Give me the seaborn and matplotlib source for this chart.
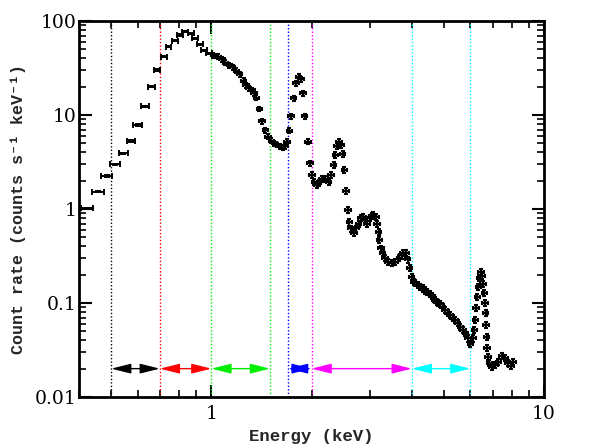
import numpy as np
import matplotlib
matplotlib.use("Agg")
import matplotlib.pyplot as plt
from matplotlib.ticker import FixedLocator, NullFormatter, FixedFormatter, LogLocator
import seaborn as sns

# spectrum (keV, counts s^-1 keV^-1)
energy = [0.424, 0.456, 0.486, 0.515, 0.544, 0.574, 0.600, 0.632, 0.662, 0.688,
          0.719, 0.743, 0.778, 0.805, 0.834, 0.869, 0.894, 0.925, 0.953, 0.984,
          1.014, 1.047, 1.077, 1.101, 1.132, 1.159, 1.189, 1.216, 1.25, 1.27,
          1.294, 1.325, 1.343, 1.365, 1.393, 1.42, 1.452, 1.48, 1.514, 1.546,
          1.575, 1.604, 1.637, 1.667, 1.688, 1.715, 1.738, 1.767, 1.795, 1.83,
          1.858, 1.884, 1.907, 1.951, 1.98, 2.005, 2.04, 2.075, 2.10, 2.15,
          2.20, 2.25, 2.29, 2.33, 2.36, 2.38, 2.42, 2.46, 2.48, 2.51,
          2.54, 2.57, 2.60, 2.63, 2.68, 2.72, 2.77, 2.82, 2.86, 2.89,
          2.94, 3.00, 3.04, 3.07, 3.12, 3.15, 3.18, 3.20, 3.23, 3.27,
          3.33, 3.40, 3.49, 3.57, 3.67, 3.73, 3.77, 3.84, 3.89, 3.94,
          4.00, 4.05, 4.10, 4.17, 4.24, 4.31, 4.39, 4.44, 4.54, 4.60,
          4.65, 4.70, 4.76, 4.81, 4.87, 4.95, 5.04, 5.13, 5.22, 5.31,
          5.40, 5.50, 5.60, 5.70, 5.80, 5.90, 6.00, 6.13, 6.17, 6.21,
          6.25, 6.30, 6.34, 6.39, 6.45, 6.52, 6.56, 6.61, 6.64, 6.67,
          6.69, 6.71, 6.74, 6.77, 6.84, 6.98, 7.13, 7.28, 7.47, 7.63,
          7.79, 7.95, 8.06]
rate = [1.02, 1.53, 2.24, 2.99, 3.91, 5.29, 7.83, 12.4, 20.0, 30.1,
        41.7, 53.3, 61.8, 71.0, 77.0, 74.0, 65.5, 56.5, 49.0, 45.3,
        43.5, 41.7, 39.1, 36.1, 34.0, 32.1, 29.6, 27.1, 23.2, 20.8,
        19.2, 18.4, 17.0, 15.3, 11.6, 8.63, 6.92, 5.87, 5.33, 5.00,
        4.80, 4.68, 4.53, 4.68, 5.20, 6.80, 9.76, 15.1, 21.7, 25.5,
        24.0, 17.0, 9.76, 5.20, 3.06, 2.30, 1.95, 1.80, 1.88, 2.07,
        2.07, 1.95, 2.30, 2.94, 3.75, 4.68, 5.20, 4.80, 3.82, 2.60,
        1.55, 0.975, 0.72, 0.62, 0.56, 0.62, 0.70, 0.80, 0.82, 0.76,
        0.70, 0.80, 0.84, 0.86, 0.83, 0.70, 0.57, 0.47, 0.38, 0.34,
        0.30, 0.275, 0.265, 0.275, 0.30, 0.32, 0.34, 0.34, 0.29, 0.234,
        0.19, 0.169, 0.162, 0.155, 0.149, 0.143, 0.136, 0.132, 0.124, 0.118,
        0.112, 0.108, 0.103, 0.100, 0.097, 0.090, 0.084, 0.079, 0.0745, 0.070,
        0.066, 0.061, 0.056, 0.052, 0.048, 0.042, 0.037, 0.042, 0.052, 0.066,
        0.088, 0.116, 0.148, 0.185, 0.214, 0.194, 0.159, 0.128, 0.100, 0.078,
        0.058, 0.0435, 0.0332, 0.0267, 0.023, 0.0209, 0.0218, 0.0236, 0.0273, 0.0259,
        0.023, 0.0215, 0.0236]

# bin half-widths (fraction of energy) for the wide low-energy bins
low_bin_frac = [0.042, 0.040, 0.038, 0.035, 0.032, 0.030, 0.028, 0.026, 0.024, 0.022,
                0.021, 0.020, 0.020, 0.020, 0.020, 0.020, 0.020, 0.020, 0.020, 0.020]
high_bin_frac = 0.019

# band boundaries (keV) and colours
band_edges = [0.5, 0.7, 1.0, 1.5, 1.7, 2.0, 4.0, 6.0]
edge_colors = ["black", "red", "#00ee00", "#00ee00", "blue", "magenta", "cyan", "cyan"]
bands = [(0.5, 0.7, "black"), (0.7, 1.0, "red"), (1.0, 1.5, "#00ee00"),
         (1.7, 2.0, "blue"), (2.0, 4.0, "magenta"), (4.0, 6.0, "cyan")]
arrow_level = 0.02

sns.set_theme(style="ticks")
plt.rcParams["font.family"] = ["DejaVu Sans"]
label_font = ["Liberation Mono", "DejaVu Sans Mono"]

E = np.array(energy)
R = np.array(rate)
nlow = len(low_bin_frac)
xfrac = np.array(low_bin_frac + [high_bin_frac] * (len(E) - nlow))
yfrac = np.where(E < 1.0, 0.015, np.where(E < 2.0, 0.06, 0.075))

fig = plt.figure(figsize=(5.98, 4.47), dpi=100)
ax = fig.add_axes([0.132, 0.112, 0.778, 0.841])

for x, c in zip(band_edges, edge_colors):
    ax.axvline(x, color=c, ls=(0, (1, 1.5)), lw=1.0, zorder=1)

# wide low-energy bins: long bars, taller end ticks
ax.errorbar(E[:nlow], R[:nlow], xerr=E[:nlow] * xfrac[:nlow], yerr=R[:nlow] * yfrac[:nlow],
            fmt="none", ecolor="black", elinewidth=1.4, capsize=2.4, capthick=1.4, zorder=3)
ax.errorbar(E[nlow:], R[nlow:], xerr=E[nlow:] * xfrac[nlow:], yerr=R[nlow:] * yfrac[nlow:],
            fmt="none", ecolor="black", elinewidth=1.6, capsize=1.6, capthick=1.5, zorder=3)

for lo, hi, c in bands:
    ax.annotate("", xy=(hi, arrow_level), xytext=(lo, arrow_level),
                arrowprops=dict(arrowstyle="<|-|>,head_length=1.0,head_width=0.25",
                                color=c, lw=1.0, shrinkA=0, shrinkB=0), zorder=4)

ax.set_xscale("log")
ax.set_yscale("log")
ax.set_xlim(0.4, 10)
ax.set_ylim(0.01, 100)

ax.xaxis.set_major_locator(FixedLocator([1, 10]))
ax.xaxis.set_major_formatter(FixedFormatter(["1", "10"]))
ax.xaxis.set_minor_locator(LogLocator(base=10, subs=np.arange(2, 10), numticks=20))
ax.xaxis.set_minor_formatter(NullFormatter())
ax.yaxis.set_major_locator(FixedLocator([0.01, 0.1, 1, 10, 100]))
ax.yaxis.set_major_formatter(FixedFormatter(["0.01", "0.1", "1", "10", "100"]))
ax.yaxis.set_minor_locator(LogLocator(base=10, subs=np.arange(2, 10), numticks=20))
ax.yaxis.set_minor_formatter(NullFormatter())

ax.tick_params(which="both", direction="in", top=True, right=True, color="black",
               labelsize=13.5, labelcolor="black")
ax.tick_params(axis="x", which="major", pad=6)
ax.tick_params(axis="y", which="major", pad=2)
ax.tick_params(which="major", length=9, width=1.5)
ax.tick_params(which="minor", length=5, width=1.2)
for lab in ax.get_xticklabels() + ax.get_yticklabels():
    lab.set_family(["DejaVu Serif"])
for s in ax.spines.values():
    s.set_linewidth(2)
    s.set_color("black")

ax.set_xlabel("Energy (keV)", fontsize=12.5, family=label_font, weight="bold", labelpad=4)
ax.set_ylabel("Count rate (counts s⁻¹ keV⁻¹)", fontsize=12, family=label_font,
              weight="bold", labelpad=6)
ax.grid(False)

fig.savefig("out.png", dpi=100, facecolor="white")
